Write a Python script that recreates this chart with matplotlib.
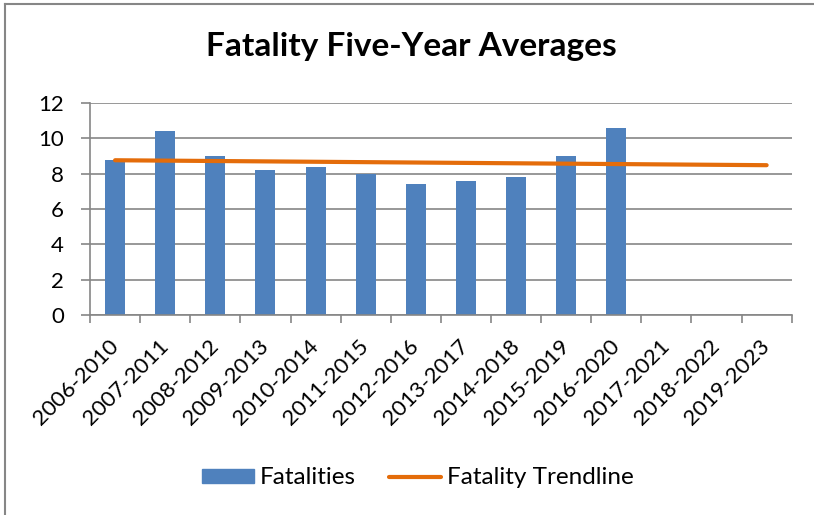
import matplotlib
matplotlib.use("Agg")
import matplotlib.pyplot as plt
import numpy as np
from matplotlib.lines import Line2D


# =========================
# 데이터
# =========================

periods = [
    "2006-2010", "2007-2011", "2008-2012", "2009-2013", "2010-2014",
    "2011-2015", "2012-2016", "2013-2017", "2014-2018", "2015-2019",
    "2016-2020", "2017-2021", "2018-2022", "2019-2023",
]
fatalities = [8.8, 10.4, 9.0, 8.2, 8.4, 8.0, 7.4, 7.6, 7.8, 9.0, 10.6]

# trendline: first and last category
trend_idx = [0, 13]
trend_vals = [8.76, 8.48]

BAR_COLOR = "#4F81BD"
TREND_COLOR = "#E46C0A"
GRID_COLOR = "#868686"

plt.rcParams["font.family"] = ["Lato", "DejaVu Sans"]


# =========================
# 그림
# =========================

fig = plt.figure(figsize=(8.14, 5.15), dpi=100)
ax = fig.add_axes([0.1106, 0.3883, 0.8620, 0.4117])

x = np.arange(len(periods))
ax.bar(x[:len(fatalities)], fatalities, width=0.4, color=BAR_COLOR, zorder=2)
ax.plot(trend_idx, trend_vals, color=TREND_COLOR, linewidth=3.0,
        solid_capstyle="round", zorder=3)

ax.set_xlim(-0.5, len(periods) - 0.5)
ax.set_ylim(0, 12)
ax.set_yticks(range(0, 13, 2))
ax.yaxis.grid(True, color=GRID_COLOR, linewidth=1.2, zorder=0)
ax.set_axisbelow(True)

ax.set_xticks(x)
ax.set_xticklabels(periods, rotation=45, ha="right", va="center",
                   rotation_mode="anchor", fontsize=16)
ax.set_xticks(np.arange(-0.5, len(periods), 1), minor=True)
ax.tick_params(axis="x", which="major", length=0, pad=20)
ax.tick_params(axis="x", which="minor", length=6, width=1.2, color=GRID_COLOR)
ax.tick_params(axis="y", length=6.7, width=1.2, color=GRID_COLOR,
               labelsize=16, pad=12)

for side in ["top", "right"]:
    ax.spines[side].set_visible(False)
for side in ["left", "bottom"]:
    ax.spines[side].set_color(GRID_COLOR)
    ax.spines[side].set_linewidth(1.2)

fig.text(0.505, 0.909, "Fatality Five-Year Averages", ha="center",
         va="center", fontsize=24, fontweight="bold")

handles = [
    plt.Rectangle((0, 0), 1, 1, color=BAR_COLOR),
    Line2D([0], [0], color=TREND_COLOR, linewidth=3.0, solid_capstyle="round"),
]
fig.legend(handles, ["Fatalities", "Fatality Trendline"], loc="center",
           bbox_to_anchor=(0.513, 0.072), ncol=2, frameon=False, fontsize=17.5,
           handlelength=2.14, handleheight=0.53, columnspacing=1.36,
           handletextpad=0.25)

# 차트 영역 테두리 (위, 왼쪽)
fig.add_artist(Line2D([0.006, 1.0], [0.992, 0.992], color=GRID_COLOR,
                      linewidth=1.5, transform=fig.transFigure))
fig.add_artist(Line2D([0.006, 0.006], [0.0, 0.992], color=GRID_COLOR,
                      linewidth=1.5, transform=fig.transFigure))

fig.savefig("out.png", dpi=100)
